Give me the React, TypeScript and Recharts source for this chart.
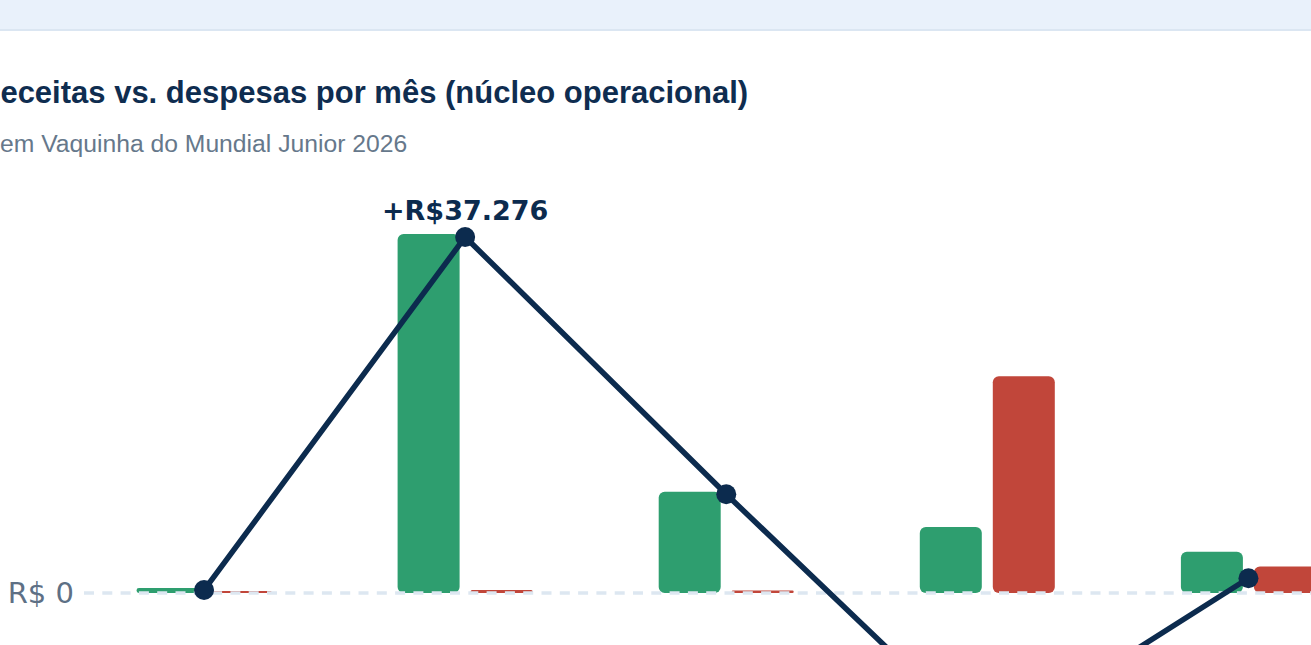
import React from "react";
import { ComposedChart, Bar, Line, XAxis, YAxis, ReferenceLine } from "recharts";

const categories = ["Fev", "Mar", "Abr", "Mai", "Jun"];
const receitas = [520, 37590, 10600, 6910, 4330];
const despesas = [210, 314, 260, 22700, 2780];
const saldo = [310, 37276, 10340, -15790, 1550];
const yTicks = [0];

const title = "Receitas vs. despesas por mês (núcleo operacional)";
const subtitle = "em Vaquinha do Mundial Junior 2026";

const data = categories.map((c, i) => ({
  mes: c,
  receitas: receitas[i],
  despesas: despesas[i],
  saldo: saldo[i],
}));

const NAVY = "#0c2b4e";
const GREEN = "#2e9e6f";
const RED = "#c1463a";

const fmtBRL = (v: number) => {
  const s = Math.round(Math.abs(v)).toString().replace(/\B(?=(\d{3})+(?!\d))/g, ".");
  return (v >= 0 ? "+R$" : "-R$") + s;
};

const maxIndex = saldo.indexOf(Math.max(...saldo));

const SaldoLabel = (props: any) => {
  const { x, y, value, index } = props;
  if (index !== maxIndex) return null;
  return (
    <text
      x={x}
      y={y - 17}
      textAnchor="middle"
      fill={NAVY}
      fontFamily="'DejaVu Sans', sans-serif"
      fontWeight="bold"
      fontSize={27}
    >
      {fmtBRL(value)}
    </text>
  );
};

export default function App() {
  return (
    <div
      style={{
        position: "fixed",
        left: 0,
        top: 0,
        width: 1311,
        height: 645,
        overflow: "hidden",
        background: "#ffffff",
      }}
    >
      <div
        style={{
          position: "absolute",
          left: 0,
          top: 0,
          width: 1311,
          height: 29,
          background: "#e9f1fb",
          borderBottom: "2px solid #dbe6f2",
        }}
      />
      <div
        style={{
          position: "absolute",
          left: -22,
          top: 75,
          fontFamily: "'Liberation Sans', Arial, sans-serif",
          fontWeight: "bold",
          fontSize: 31,
          lineHeight: "35px",
          color: "#0f2d50",
          whiteSpace: "nowrap",
        }}
      >
        {title}
      </div>
      <div
        style={{
          position: "absolute",
          left: 0,
          top: 130,
          fontFamily: "'Liberation Sans', Arial, sans-serif",
          fontSize: 24.7,
          lineHeight: "28px",
          color: "#66788b",
          whiteSpace: "nowrap",
        }}
      >
        {subtitle}
      </div>
      <div style={{ position: "absolute", left: 0, top: 170 }}>
        <ComposedChart
          width={1379}
          height={614}
          data={data}
          margin={{ top: 41, right: 0, bottom: 0, left: 0 }}
          barSize={62}
          barGap={11}
        >
          <XAxis dataKey="mes" hide padding={{ left: -10.5, right: 0 }} />
          <YAxis
            width={84}
            domain={[-20000, 40000]}
            ticks={yTicks}
            axisLine={false}
            tickLine={false}
            tickMargin={4}
            tickFormatter={(v: number) => (v === 0 ? "R$ 0" : String(v))}
            tick={{ fill: "#5e7085", fontSize: 29, fontFamily: "'DejaVu Sans', sans-serif" }}
          />
          <Bar dataKey="receitas" fill={GREEN} radius={6} isAnimationActive={false} />
          <Bar dataKey="despesas" fill={RED} radius={6} isAnimationActive={false} />
          <ReferenceLine y={0} stroke="#dde7f1" strokeWidth={3.5} strokeDasharray="10 8.3" />
          <Line
            type="linear"
            dataKey="saldo"
            stroke={NAVY}
            strokeWidth={5.5}
            dot={{ r: 10, fill: NAVY, stroke: NAVY, strokeWidth: 0 }}
            activeDot={false}
            label={SaldoLabel}
            isAnimationActive={false}
          />
        </ComposedChart>
      </div>
    </div>
  );
}
